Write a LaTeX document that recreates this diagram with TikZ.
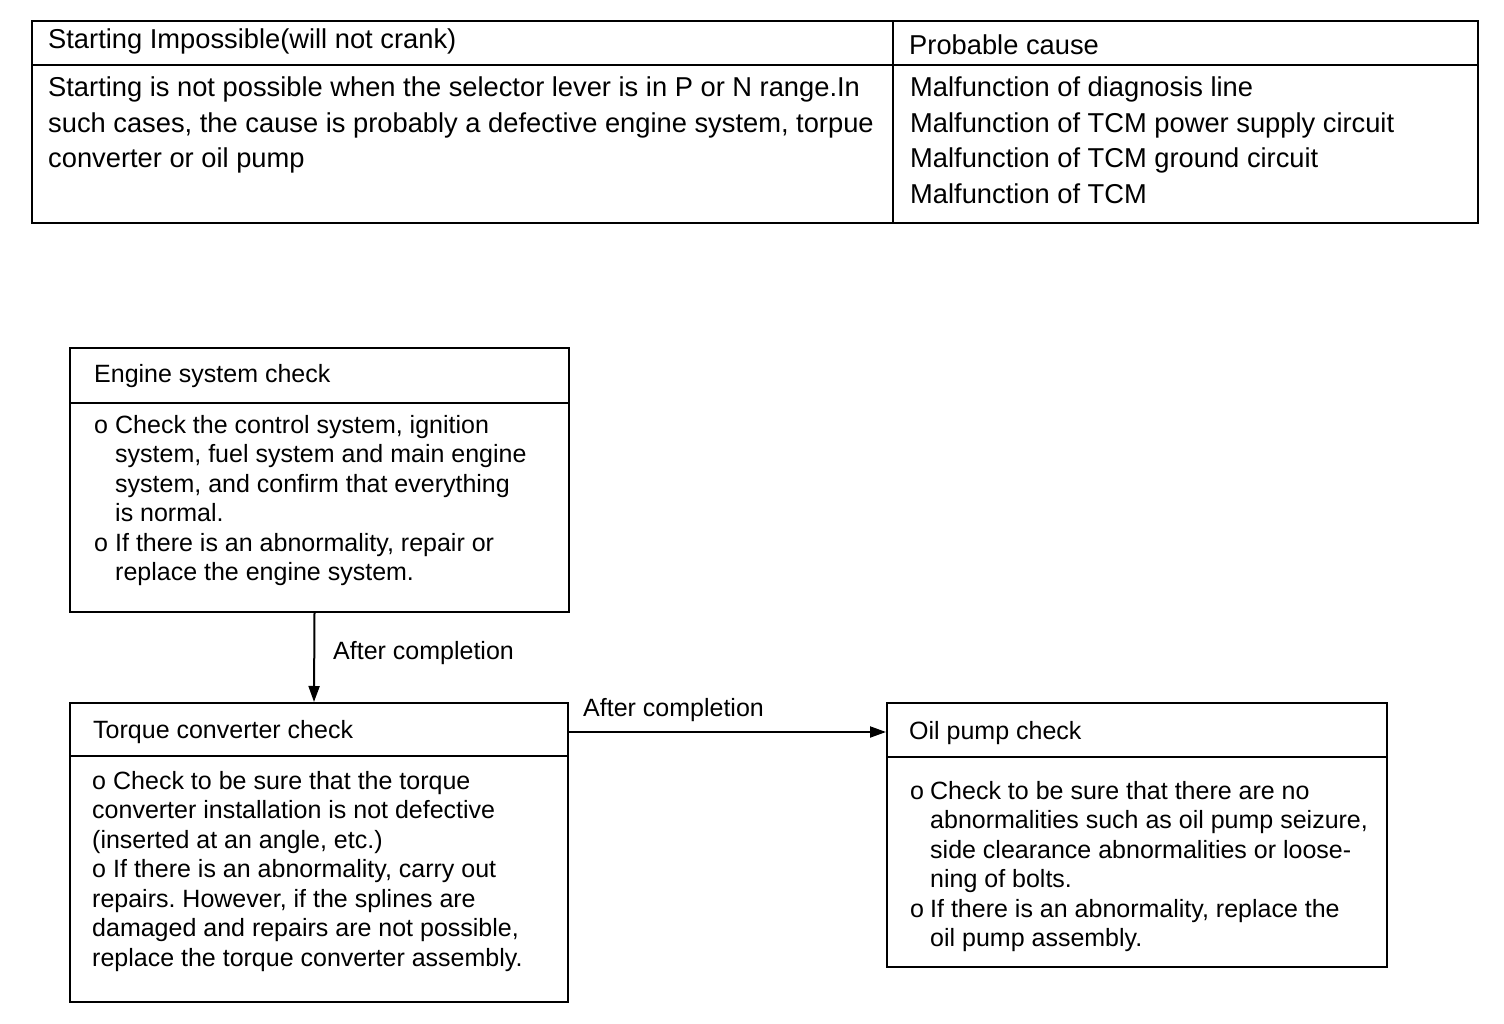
\documentclass[tikz,border=0pt]{standalone}
\usepackage{fontspec}
\setmainfont{Liberation Sans}
\usetikzlibrary{arrows.meta, positioning}
\tikzset{
  rule/.style={line width=2pt},
  chk/.style={rectangle, draw, line width=2pt, inner sep=0pt},
  txt/.style={anchor=north west, align=left, inner sep=0pt,
    font=\fontsize{25}{29.5}\selectfont},
  tabtxt/.style={txt, font=\fontsize{27.3}{35.4}\selectfont},
  arr/.style={-{Triangle[length=16pt,width=11pt]}, line width=2pt},
}
\newcommand{\bul}{\makebox[21pt][l]{o}}
\frenchspacing

\begin{document}
\begin{tikzpicture}[x=1pt, y=-1pt]
  \useasboundingbox (0,0) rectangle (1504,1024);

  % ---- Table at top ----
  \draw[rule] (32,21) rectangle (1478,223);
  \draw[rule] (32,65) -- (1478,65);
  \draw[rule] (893,21) -- (893,223);
  \node[tabtxt] (hdL) at (48,29) {Starting Impossible(will not crank)};
  \node[tabtxt] (hdR) at (909,35) {Probable cause};
  \node[tabtxt] (symp) at (48,77)
        {Starting is not possible when the selector lever is in P or N range.In\\
         such cases, the cause is probably a defective engine system, torpue\\
         converter or oil pump};
  \node[tabtxt] (cause) at (910,77)
        {Malfunction of diagnosis line\\
         Malfunction of TCM power supply circuit\\
         Malfunction of TCM ground circuit\\
         Malfunction of TCM};

  % ---- Check boxes ----
  \node[chk, minimum width=499, minimum height=264] (eng) at (319.5,480) {};
  \node[chk, minimum width=498, minimum height=299] (tq)  at (319,852.5) {};
  \node[chk, minimum width=500, minimum height=264] (oil) at (1137,835) {};
  \draw[rule] ([yshift=-56pt]eng.north west) -- ([yshift=-56pt]eng.north east);
  \draw[rule] ([yshift=-54pt]tq.north west)  -- ([yshift=-54pt]tq.north east);
  \draw[rule] ([yshift=-55pt]oil.north west) -- ([yshift=-55pt]oil.north east);

  % ---- Engine system ----
  \node[txt] (engT) at (94,364) {Engine system check};
  \node[txt] (engB) at (94,415)
        {\bul Check the control system, ignition\\
         \hspace*{21pt}system, fuel system and main engine\\
         \hspace*{21pt}system, and confirm that everything\\
         \hspace*{21pt}is normal.\\
         \bul If there is an abnormality, repair or\\
         \hspace*{21pt}replace the engine system.};

  % ---- Torque converter ----
  \node[txt] (tqT) at (93,720) {Torque converter check};
  \node[txt] (tqB) at (92,771)
        {\bul Check to be sure that the torque\\
         converter installation is not defective\\
         (inserted at an angle, etc.)\\
         \bul If there is an abnormality, carry out\\
         repairs. However, if the splines are\\
         damaged and repairs are not possible,\\
         replace the torque converter assembly.};

  % ---- Oil pump ----
  \node[txt] (oilT) at (909,721) {Oil pump check};
  \node[txt] (oilB) at (910,781)
        {\makebox[20pt][l]{o}Check to be sure that there are no\\
         \hspace*{20pt}abnormalities such as oil pump seizure,\\
         \hspace*{20pt}side clearance abnormalities or loose-\\
         \hspace*{20pt}ning of bolts.\\
         \makebox[20pt][l]{o}If there is an abnormality, replace the\\
         \hspace*{20pt}oil pump assembly.};

  % ---- Arrows ----
  \draw[arr] ([xshift=-5pt]eng.south) -- ([xshift=-5pt]tq.north);
  \draw[arr] ([yshift=-30pt]tq.north east) -- ([yshift=-30pt]oil.north west);

  % ---- Labels ----
  \node[txt] (lab1) at (333,641) {After completion};
  \node[txt] (lab2) at (583,698) {After completion};
\end{tikzpicture}
\end{document}
